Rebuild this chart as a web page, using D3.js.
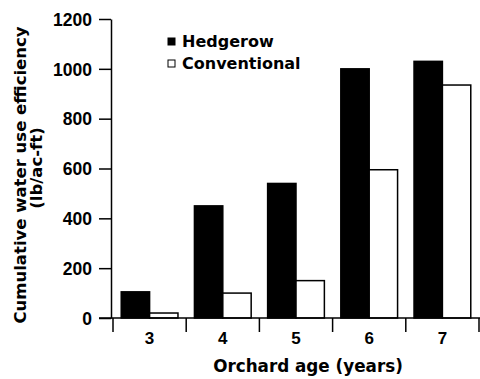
<!DOCTYPE html>
<html>
<head>
<meta charset="utf-8">
<script src="https://cdn.jsdelivr.net/npm/d3@7"></script>
<style>
  body { margin: 0; background: #fff; }
  text { font-family: "DejaVu Sans", sans-serif; font-weight: bold; fill: #000; }
  .num { font-family: "Liberation Sans", Arial, sans-serif; }
</style>
</head>
<body>
<script>
const width = 480;
const height = 379;

// data
const ages = ["3", "4", "5", "6", "7"];
const seriesNames = ["Hedgerow", "Conventional"];
const hedgerow = [105, 450, 540, 1000, 1030];
const conventional = [20, 100, 150, 595, 935];
const yTicks = [0, 200, 400, 600, 800, 1000, 1200];

const rows = ages.map((a, i) => ({age: a, Hedgerow: hedgerow[i], Conventional: conventional[i]}));

const svg = d3.select("body")
    .append("svg")
    .attr("width", width)
    .attr("height", height);

let x = d3.scaleBand()
    .domain(ages)
    .range([113, 479])
    .paddingInner(0)
    .paddingOuter(0);

let x1 = d3.scaleBand()
    .domain(seriesNames)
    .range([0, x.bandwidth()])
    .paddingInner(0)
    .paddingOuter(0.29);

let y = d3.scaleLinear()
    .domain([0, 1200])
    .range([318, 19]);

const fills = {Hedgerow: "#000", Conventional: "#fff"};

// bars
svg.append("g")
    .selectAll("g")
    .data(rows)
    .enter()
    .append("g")
    .attr("transform", d => `translate(${x(d.age)},0)`)
    .selectAll("rect")
    .data(d => seriesNames.map(s => ({key: s, value: d[s]})))
    .enter()
    .append("rect")
    .attr("x", d => x1(d.key))
    .attr("y", d => y(d.value))
    .attr("width", x1.bandwidth())
    .attr("height", d => y(0) - y(d.value))
    .attr("fill", d => fills[d.key])
    .attr("stroke", "#000")
    .attr("stroke-width", 1.5);

// y axis
let yAxis = svg.append("g")
    .attr("transform", "translate(111,0)")
    .call(d3.axisLeft(y).tickValues(yTicks).tickFormat(d3.format("d"))
        .tickSize(12).tickPadding(7).tickSizeOuter(0));
yAxis.selectAll("text").attr("class", "num").style("font-size", "17.5px").attr("dy", "0.36em");
yAxis.selectAll("line, path").attr("stroke", "#000").attr("stroke-width", 1.5);

// x axis line
svg.append("line")
    .attr("x1", 99).attr("x2", 480)
    .attr("y1", y(0)).attr("y2", y(0))
    .attr("stroke", "#000")
    .attr("stroke-width", 1.5);

// x ticks at band edges
let edges = ages.map(a => x(a)).concat([x.range()[1]]);
svg.append("g")
    .selectAll("line")
    .data(edges)
    .enter()
    .append("line")
    .attr("x1", d => d).attr("x2", d => d)
    .attr("y1", y(0)).attr("y2", y(0) + 14)
    .attr("stroke", "#000")
    .attr("stroke-width", 1.5);

svg.append("g")
    .selectAll("text")
    .data(ages)
    .enter()
    .append("text")
    .attr("class", "num")
    .attr("x", d => x(d) + x.bandwidth() / 2)
    .attr("y", 344)
    .attr("text-anchor", "middle")
    .style("font-size", "17px")
    .text(d => d);

// axis titles
svg.append("text")
    .attr("x", 308)
    .attr("y", 372)
    .attr("text-anchor", "middle")
    .style("font-size", "16.8px")
    .text("Orchard age (years)");

svg.append("text")
    .attr("transform", "translate(26,175) rotate(-90)")
    .attr("text-anchor", "middle")
    .style("font-size", "16.5px")
    .text("Cumulative water use efficiency");

svg.append("text")
    .attr("transform", "translate(42,168) rotate(-90)")
    .attr("text-anchor", "middle")
    .style("font-size", "16.5px")
    .text("(lb/ac-ft)");

// legend
let legend = svg.append("g")
    .selectAll("g")
    .data(seriesNames)
    .enter()
    .append("g")
    .attr("transform", (d, i) => `translate(168,${38 + i * 22})`);

legend.append("rect")
    .attr("width", 7)
    .attr("height", 7)
    .attr("fill", d => fills[d])
    .attr("stroke", "#000")
    .attr("stroke-width", 1);

legend.append("text")
    .attr("x", 14)
    .attr("y", 8.5)
    .style("font-size", "16px")
    .text(d => d);
</script>
</body>
</html>
